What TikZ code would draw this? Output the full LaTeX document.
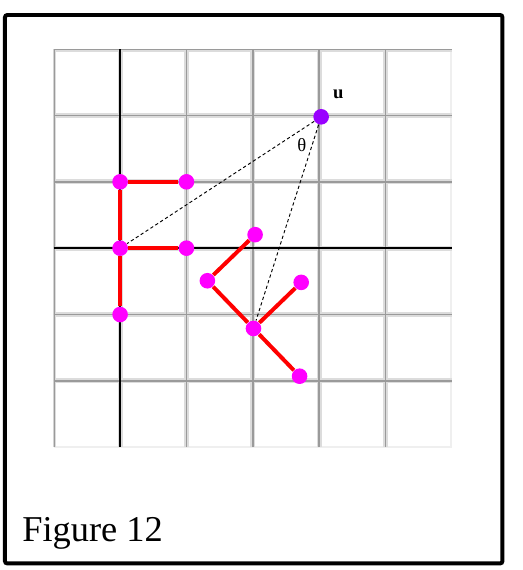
\documentclass[tikz,border=0pt]{standalone}
\usepackage{fontspec}
\setmainfont{Liberation Serif}
\usetikzlibrary{positioning}
\definecolor{gridgray}{HTML}{9A9A9A}
\definecolor{gridhalo}{HTML}{DCDCDC}
\definecolor{gridfaint}{HTML}{EFEFEF}
\definecolor{dotpink}{HTML}{FF00FF}
\definecolor{dotviolet}{HTML}{9900FF}

\begin{document}
\begin{tikzpicture}[
    every node/.style={font=\small},
    dot/.style={circle,fill=dotpink,inner sep=0pt,minimum size=0.235cm},
    halo/.style={gridhalo,line width=2.2pt},
    gline/.style={gridgray,line width=0.8pt},
    axis/.style={black,line width=0.9pt},
    bond/.style={red,line width=1.7pt},
    ray/.style={dash pattern=on 1.4pt off 1.1pt,line width=0.4pt},
  ]
  \useasboundingbox (-1.81,-4.85) rectangle (6.06,3.74);
  \draw[line width=1.7pt,rounded corners=1pt] (-1.735,-4.751) rectangle (5.762,3.514);

  % grid
  \begin{scope}
    \clip (-1,-3) rectangle (5,3);
    \draw[gridfaint,line width=1.2pt] (5,-3) -- (5,3);
    \draw[gridfaint,line width=1.2pt] (-1,-3) -- (5,-3);
    \foreach \x in {-1,...,4} \draw[halo] (\x,-3) -- (\x,3);
    \foreach \y in {-2,...,3} \draw[halo] (-1,\y) -- (5,\y);
    \foreach \x in {-1,1,2,3,4} \draw[gline] (\x,-3) -- (\x,3);
    \foreach \y in {-2,-1,1,2,3} \draw[gline] (-1,\y) -- (5,\y);
    \draw[axis] (0,-3) -- (0,3);
    \draw[axis] (-1,0) -- (5,0);
  \end{scope}

  % F on the axes
  \node[dot] (f1) at (0,1) {};
  \node[dot] (f2) at (1,1) {};
  \node[dot] (f3) at (0,0) {};
  \node[dot] (f4) at (1,0) {};
  \node[dot] (f5) at (0,-1) {};

  % turned F
  \begin{scope}[shift={(2.01,-1.21)},rotate=44]
    \node[dot] (k1) at (0,1) {};
    \node[dot] (k2) at (1,1) {};
    \node[dot] (k3) at (0,0) {};
    \node[dot] (k4) at (1,0) {};
    \node[dot] (k5) at (0,-1) {};
  \end{scope}

  \node[dot,fill=dotviolet] (u) at (3.03,1.98) {};
  \node[font=\bfseries\footnotesize] (ulabel) at (3.29,2.32) {u};
  \node[font=\footnotesize] (theta) at (2.74,1.55) {θ};

  \draw[ray] (u) -- (f3);
  \draw[ray] (u) -- (k3);

  \draw[bond] (f2) -- (f1) -- (f3) -- (f5);
  \draw[bond] (f3) -- (f4);
  \draw[bond] (k2) -- (k1) -- (k3) -- (k5);
  \draw[bond] (k3) -- (k4);

  \node[anchor=base west,inner sep=0pt,font=\fontsize{15.6}{18}\selectfont] (cap)
    at (-1.48,-4.42) {Figure 12};
\end{tikzpicture}
\end{document}
